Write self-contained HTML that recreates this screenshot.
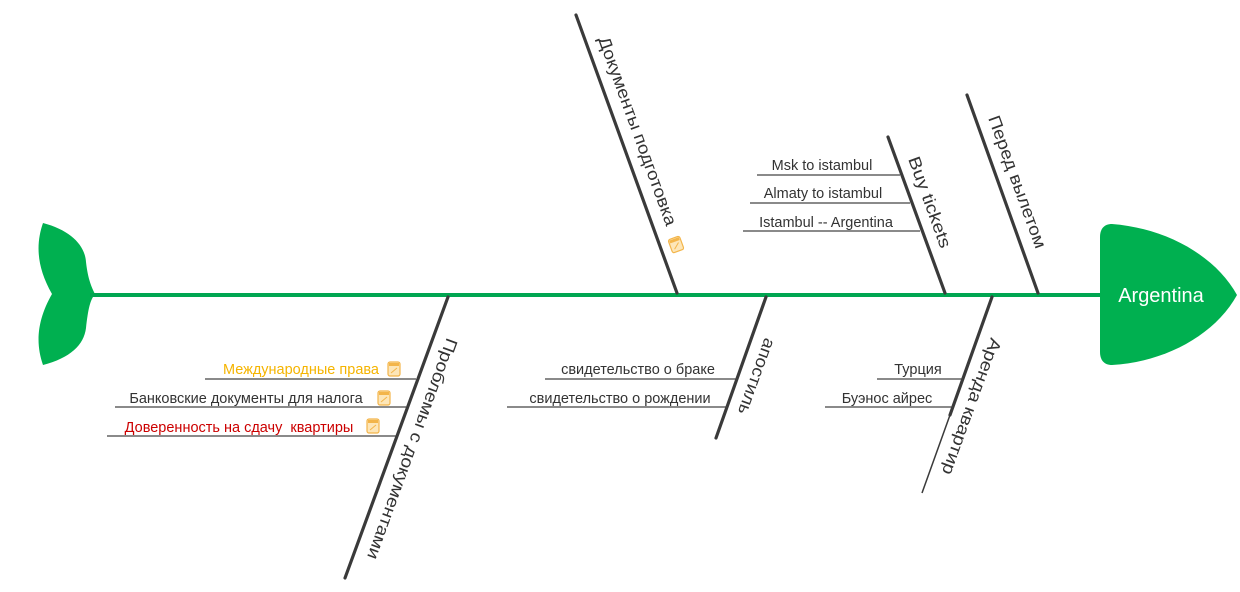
<!DOCTYPE html>
<html><head><meta charset="utf-8"><style>
html,body{margin:0;padding:0;background:#fff;}
svg{display:block;}
text{font-family:"Liberation Sans",Arial,sans-serif;}
</style></head><body>
<svg width="1240" height="592" viewBox="0 0 1240 592" xmlns="http://www.w3.org/2000/svg">
<defs>
<g id="ic"><rect x="0" y="0" width="12" height="14" rx="2" fill="#fde6b8" stroke="#f3b54a" stroke-width="1.2"/><rect x="1" y="1" width="10" height="3" fill="#f3b54a"/><path d="M3 11 L9 6" stroke="#f3b54a" stroke-width="1"/></g>
</defs>
<!-- tail -->
<path d="M43 223 C70 230 85 245 86 262 C88 280 92 288 95 294 C90 300 88 310 86 328 C84 345 70 358 43 365 C36 345 36 322 52 294 C36 266 36 243 43 223 Z" fill="#00b050"/>
<!-- spine -->
<line x1="90" y1="295" x2="1105" y2="295" stroke="#00a651" stroke-width="4"/>
<!-- head -->
<path d="M1112 224 C1165 228 1215 255 1237 295 C1215 335 1165 362 1112 365 C1104 365 1100 360 1100 352 L1100 237 C1100 229 1104 224 1112 224 Z" fill="#00b050"/>
<text x="1161" y="302" fill="#fff" font-size="20" text-anchor="middle">Argentina</text>

<g stroke="#3a3a3a" stroke-width="3.2" stroke-linecap="round" fill="none">
<line x1="576" y1="15" x2="677" y2="293"/>
<line x1="888" y1="137" x2="945" y2="293"/>
<line x1="967" y1="95" x2="1038" y2="293"/>
<line x1="448" y1="297" x2="345" y2="578"/>
<line x1="766" y1="297" x2="716" y2="438"/>
<line x1="992" y1="297" x2="950" y2="415"/>
</g>
<line x1="950" y1="415" x2="922" y2="493" stroke="#3a3a3a" stroke-width="1.5"/>

<g stroke="#444" stroke-width="1.2">
<line x1="757" y1="175" x2="900" y2="175"/>
<line x1="750" y1="203" x2="910" y2="203"/>
<line x1="743" y1="231" x2="920" y2="231"/>
<line x1="205" y1="379" x2="416" y2="379"/>
<line x1="115" y1="407" x2="406" y2="407"/>
<line x1="107" y1="436" x2="396" y2="436"/>
<line x1="545" y1="379" x2="737" y2="379"/>
<line x1="507" y1="407" x2="727" y2="407"/>
<line x1="825" y1="407" x2="953" y2="407"/>
<line x1="877" y1="379" x2="963" y2="379"/>
</g>

<g font-size="17" fill="#333">
<text transform="translate(598,39) rotate(70)" textLength="200" lengthAdjust="spacingAndGlyphs">Документы подготовка</text>
<text transform="translate(908,159) rotate(70)" textLength="96" lengthAdjust="spacingAndGlyphs">Buy tickets</text>
<text transform="translate(988,118) rotate(70)" textLength="140" lengthAdjust="spacingAndGlyphs">Перед вылетом</text>
<text transform="translate(447,337) rotate(110)" textLength="234" lengthAdjust="spacingAndGlyphs">Проблемы с документами</text>
<text transform="translate(765,337) rotate(110)" textLength="80" lengthAdjust="spacingAndGlyphs">апостиль</text>
<text transform="translate(991,337) rotate(110)" textLength="144" lengthAdjust="spacingAndGlyphs">Аренда квартир</text>
</g>

<g font-size="14.5" fill="#333" text-anchor="middle">
<text x="822" y="170">Msk to istambul</text>
<text x="823" y="198">Almaty to istambul</text>
<text x="826" y="227">Istambul -- Argentina</text>
<text x="638" y="374">свидетельство о браке</text>
<text x="620" y="403">свидетельство о рождении</text>
<text x="918" y="374">Турция</text>
<text x="887" y="403">Буэнос айрес</text>
<text x="301" y="374" fill="#f5b400">Международные права</text>
<text x="246" y="403">Банковские документы для налога</text>
<text x="239" y="432" fill="#cc0000">Доверенность на сдачу&#160; квартиры</text>
</g>

<use href="#ic" x="388" y="362"/>
<use href="#ic" x="378" y="391"/>
<use href="#ic" x="367" y="419"/>
<g transform="translate(668,240) rotate(-20)"><use href="#ic" x="0" y="0"/></g>
</svg>
</body></html>
